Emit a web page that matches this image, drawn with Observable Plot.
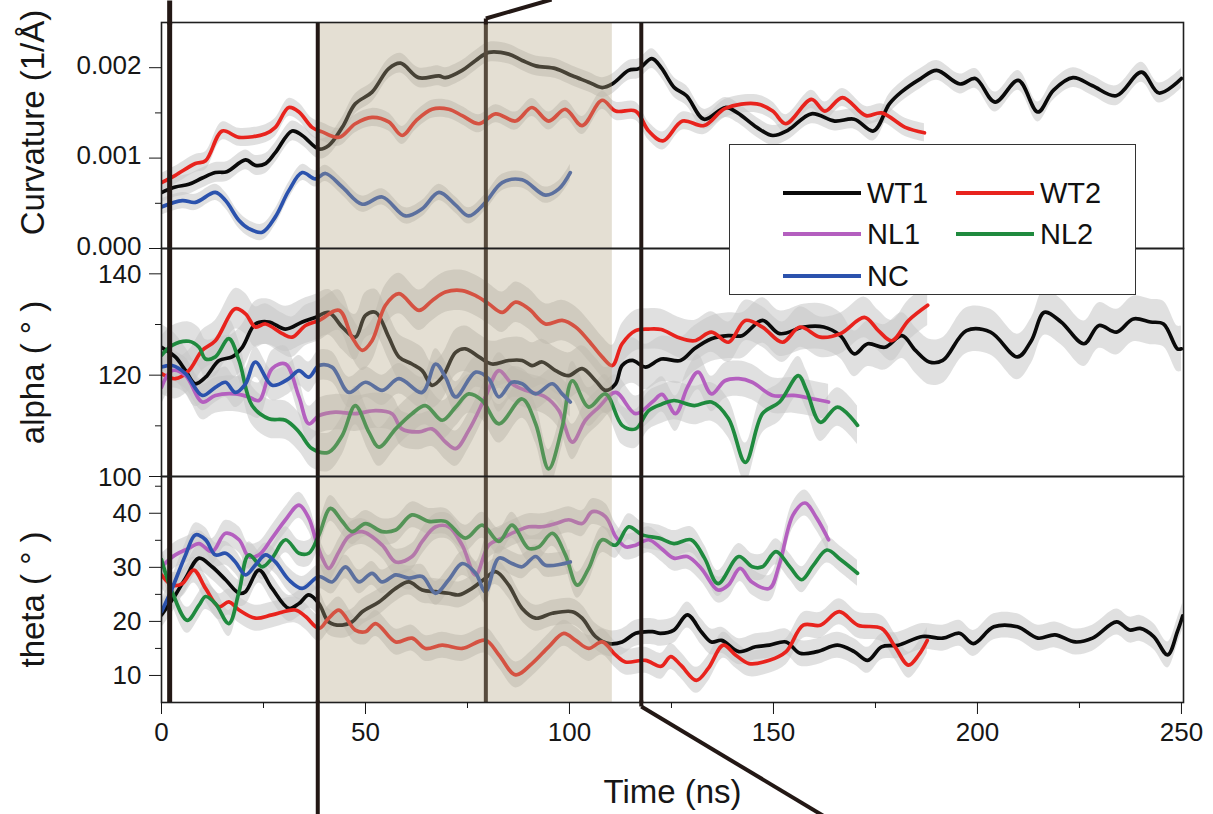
<!DOCTYPE html>
<html><head><meta charset="utf-8">
<script src="https://cdn.jsdelivr.net/npm/d3@7"></script>
<script src="https://cdn.jsdelivr.net/npm/@observablehq/plot@0.6"></script>
<style>
body{margin:0;background:#fff;}
#fig{position:relative;width:1213px;height:814px;overflow:hidden;font-family:"Liberation Sans",Arial,Helvetica,sans-serif;}
#fig .p{position:absolute;left:0;}
#fig svg{overflow:visible;}
#legend{position:absolute;left:729px;top:144px;width:407px;height:151px;border:1.3px solid #333;background:#fff;box-sizing:border-box;}
#legend .e{position:absolute;display:flex;align-items:center;height:30px;font-size:29px;color:#111;}
#legend .sw{display:inline-block;width:78px;height:4px;margin-right:6px;}
</style></head><body><div id="fig"></div>
<script>
// ---- series identity ----
const seriesNames = ["WT1", "WT2", "NL1", "NL2", "NC"];
const seriesColors = ["#0a0a0a", "#e8231d", "#b45fbf", "#1f8a3e", "#2b52ad"];

// ---- Curvature (values in 10^-3 1/Å), [time ns, value] ----
const curvWT1 = [[0,0.62],[3.4,0.68],[6.7,0.71],[10,0.78],[13.2,0.84],[16,0.85],[20.6,0.98],[23,0.92],[25.5,0.94],[27.9,1.06],[32,1.30],[34.5,1.25],[38.6,1.10],[41,1.14],[44.3,1.34],[47.5,1.60],[51.6,1.73],[55.7,1.99],[58.6,2.05],[63,1.89],[68,1.91],[69.6,1.89],[73.7,1.97],[77,2.08],[80.2,2.17],[85.1,2.15],[88.4,2.08],[91.7,2.02],[96.6,1.99],[100.7,1.91],[104.7,1.84],[108,1.78],[110.5,1.82],[114.5,1.97],[117,1.99],[120.2,2.10],[122.5,2.0],[125.7,1.78],[128.7,1.69],[133,1.43],[138.2,1.56],[141.2,1.50],[145.9,1.34],[149.8,1.25],[153.6,1.31],[159.3,1.49],[165,1.41],[169.8,1.43],[174.5,1.30],[178.4,1.60],[181.3,1.73],[186.1,1.88],[190,1.97],[195.7,1.82],[199.5,1.88],[204.3,1.62],[210,1.86],[214.8,1.51],[218.6,1.75],[223.4,1.89],[228.2,1.80],[234,1.69],[240.2,1.95],[244.5,1.72],[250,1.88]];
const curvWT2 = [[0,0.73],[3.4,0.81],[8.3,0.94],[10.8,0.97],[14.9,1.30],[19,1.23],[25.5,1.27],[27.9,1.34],[31.2,1.56],[33.7,1.51],[36.9,1.34],[39.4,1.29],[43.5,1.23],[47.5,1.38],[51.6,1.45],[55.7,1.40],[59,1.25],[62.3,1.41],[66.3,1.54],[70.4,1.54],[73.7,1.47],[77.8,1.38],[81.9,1.49],[86.8,1.41],[90.8,1.56],[94.9,1.41],[99,1.54],[103.1,1.36],[108,1.64],[111.3,1.52],[116.2,1.52],[119.4,1.30],[122.9,1.19],[127.7,1.41],[133,1.36],[138.2,1.55],[145.9,1.60],[149.8,1.52],[153,1.38],[159.3,1.65],[162.6,1.52],[166.9,1.67],[172.7,1.47],[176.5,1.50],[182.3,1.34],[187,1.28]];
const curvNC = [[0,0.46],[5.1,0.53],[8.3,0.51],[13.2,0.62],[15.7,0.53],[19,0.31],[21.4,0.22],[24.7,0.18],[27.9,0.35],[31.2,0.64],[34.5,0.84],[37.7,0.77],[40.2,0.83],[44.3,0.68],[49.2,0.49],[54.1,0.57],[59.8,0.36],[63.9,0.44],[68,0.62],[72.1,0.48],[75.3,0.36],[79.4,0.51],[83.5,0.73],[88.4,0.76],[94.1,0.59],[97.4,0.66],[100.2,0.84]];

// ---- alpha (degrees) ----
const alphaWT1 = [[0,125.5],[3.4,123.6],[5.9,120.9],[8.3,118.3],[10.8,119.6],[14.1,122.9],[17.3,123.6],[19.8,125.5],[23,130.1],[26.3,130.5],[30.4,129.1],[34.5,130.5],[37.7,131.4],[41,132.4],[44.3,129.5],[47.5,127.5],[50,131.8],[52.5,132.4],[55.7,127.5],[58.2,123.6],[61.4,122.2],[63.9,120.9],[66.3,118.0],[68.8,119.6],[72.1,124.5],[74.5,125.2],[77.8,123.6],[81,122.2],[85.1,122.9],[88.4,122.9],[90.8,121.9],[93.3,122.6],[96.6,120.9],[99.8,119.9],[103.1,121.3],[106.4,118.9],[108.8,117.0],[111.3,118.3],[112.9,121.9],[115.4,122.9],[118.6,121.6],[122.5,123.2],[127.2,122.9],[130.6,125.2],[134.8,127.2],[139,127.8],[142.3,127.8],[147.3,130.8],[151.5,128.2],[157.4,129.5],[162.3,129.5],[166.4,127.8],[169.8,124.2],[173.1,126.2],[177.3,125.5],[181.5,127.8],[184.8,124.9],[188.2,122.6],[191.5,122.9],[197.3,128.8],[203.2,128.5],[209.8,123.6],[213.2,126.8],[216.4,132.4],[220.5,130.5],[226.1,126.2],[229.8,129.8],[234.1,128.5],[238.2,131.1],[242.4,130.5],[245.6,130.1],[249,125.2],[250,125.2]];
const alphaWT2 = [[0,120.3],[3.4,119.3],[6.7,120.9],[10,124.9],[13.2,126.8],[18.1,133.1],[20.6,132.1],[23,129.5],[25.5,130.1],[29.6,128.2],[32,127.5],[35.3,129.8],[38.6,130.8],[43.5,132.8],[46.7,127.5],[49.2,124.9],[51.6,126.8],[54.9,133.8],[58.2,136.1],[63.1,132.8],[66.3,134.7],[69.6,136.4],[73.7,136.7],[77,135.7],[80.2,134.1],[83.5,132.4],[86.8,134.4],[90,133.1],[94.1,130.1],[98.2,130.8],[101.5,129.5],[104.7,126.8],[108,123.6],[110.5,121.9],[112.9,126.2],[116.2,128.8],[119.4,129.1],[122.5,129.0],[126.5,127.5],[130.6,126.8],[134.8,128.5],[139,126.5],[143.1,130.8],[147.3,129.5],[152.2,126.5],[156.5,129.5],[161.5,127.5],[166.4,128.2],[172.3,131.4],[175.7,128.8],[179,126.8],[183.1,130.8],[187.8,133.8]];
const alphaNL1 = [[0,117.6],[2.6,120.9],[5.9,119.9],[10,114.7],[13.2,116.0],[18.1,116.3],[21.4,115.7],[23.9,115.0],[27.1,121.3],[30.4,122.2],[33.7,115.7],[36.1,110.4],[38.6,112.0],[42.6,112.7],[47.5,112.4],[52.5,113.0],[56.5,112.4],[58.9,109.4],[63.1,108.8],[66.3,109.4],[69.6,106.8],[72.1,105.5],[75.3,109.1],[79.4,115.7],[82.7,120.9],[85.9,118.3],[89.2,117.0],[94.1,115.7],[97.4,113.0],[100.7,106.8],[103.9,111.1],[107.2,113.7],[111.3,116.6],[116.2,112.4],[120.3,114.7],[122.7,116.2],[126,112.4],[128.9,117.6],[131.5,120.6],[134.8,116.3],[138.1,118.9],[141.5,119.3],[144.8,118.6],[149.8,116.0],[154.8,116.0],[159.8,115.3],[163.5,114.7]];
const alphaNL2 = [[0,123.9],[2.6,125.9],[6.7,126.7],[9.2,125.5],[10.8,123.2],[13.2,123.6],[16.5,127.2],[19,122.9],[22.2,114.0],[26.3,111.4],[30.4,111.1],[33.7,108.8],[36.9,105.5],[41,104.8],[44.3,108.1],[47.5,114.0],[50.8,108.8],[53.3,105.8],[57.4,109.4],[61.4,112.4],[64.7,114.0],[68.8,111.1],[72.1,113.7],[75.3,116.3],[78.6,115.0],[82.7,110.4],[88.4,115.3],[91.7,110.4],[94.9,101.5],[98.2,109.7],[100.7,118.9],[104.7,113.7],[108.8,116.3],[112.9,110.1],[116.2,109.4],[119.4,113.0],[122.7,114.3],[125.6,115.0],[130.6,114.0],[134.8,114.7],[139,111.4],[143.1,102.8],[147.3,112.4],[151.5,114.7],[156.1,119.9],[158.1,117.0],[161.5,110.7],[165.7,113.7],[170.6,110.1]];
const alphaNC = [[0,121.6],[2.6,121.9],[5.9,120.3],[10,116.0],[13.2,117.6],[15.7,118.6],[18.1,116.6],[20.6,118.3],[23,122.6],[27.1,118.0],[31.2,119.3],[33.7,120.9],[36.1,119.6],[38.6,121.9],[41.8,121.6],[45.9,116.6],[50,118.6],[54.1,117.0],[58.2,119.3],[63.9,116.6],[67.2,122.2],[69.6,119.6],[72.1,115.7],[77,120.6],[80.2,119.3],[82.7,115.7],[85.9,118.6],[88.4,118.3],[91.7,116.3],[95.8,118.3],[98.2,116.3],[100.2,114.7]];

// ---- theta (degrees) ----
const thetaWT1 = [[0,21.2],[3.4,24.9],[5.9,28.0],[9.2,31.7],[12.4,30.1],[15.7,27.7],[19,25.2],[20.6,25.5],[23.9,29.5],[27.1,26.1],[31.2,22.4],[33.7,23.3],[36.1,24.9],[38.6,23.3],[41,19.9],[44.3,19.3],[46.7,19.9],[49.2,21.8],[53.3,23.6],[57.4,26.1],[60.6,27.3],[63.9,25.8],[67.2,25.5],[70.4,25.2],[72.9,24.9],[76.1,26.1],[79.4,28.0],[81.9,29.2],[85.1,26.7],[88.4,22.4],[91.7,20.6],[95.8,21.5],[100.7,21.8],[103.1,20.6],[106.4,17.2],[109.7,15.9],[112.9,16.2],[116.2,17.8],[120.3,18.1],[122.3,17.8],[125.6,18.4],[128.9,21.2],[132.3,18.1],[134.8,16.2],[137.3,16.5],[141.5,14.4],[145.6,15.3],[149,15.6],[153.1,16.2],[156.5,14.1],[160.7,14.4],[165.7,15.6],[169.8,14.4],[173.1,12.8],[176.5,15.3],[180.6,15.6],[186.5,17.2],[191.5,16.9],[195.6,17.8],[199,15.9],[204,19.0],[209.8,19.0],[214.8,16.9],[219,17.5],[224,16.2],[228.2,16.9],[234.1,19.9],[237.3,18.4],[239.9,18.7],[243.2,17.2],[246.6,13.8],[249,18.1],[250.3,21.0]];
const thetaWT2 = [[0,28.6],[2.6,26.7],[5.1,27.0],[7.9,29.5],[10.8,26.1],[14.1,22.7],[16.5,23.6],[19,22.1],[23,20.6],[27.1,21.2],[32.8,22.1],[35.3,20.9],[38.6,18.7],[41,20.6],[43.5,22.1],[47.5,18.4],[50,18.1],[52.5,19.6],[57.4,16.2],[61.4,16.9],[64.7,15.0],[68.8,15.6],[73.7,15.0],[79.4,16.5],[82.7,13.8],[86.8,10.1],[90.8,12.2],[94.9,15.3],[98.6,17.8],[101.5,16.5],[104.7,15.0],[108,16.2],[111.3,13.8],[113.7,12.5],[118.6,12.8],[122.5,11.7],[124.8,13.5],[127.3,11.9],[131.1,9.1],[134,11.3],[137.7,15.6],[140.7,13.8],[144,12.2],[149,12.8],[153.1,14.4],[157.3,19.3],[161.5,19.3],[166.1,21.8],[170.7,19.3],[176.5,18.7],[179.8,15.3],[183.1,11.9],[185.6,13.8],[187.7,16.5]];
const thetaNL1 = [[0,30.1],[3.4,32.3],[6.7,33.5],[9.2,34.4],[12.4,32.9],[15.7,36.3],[19,35.1],[21.4,32.0],[23.9,32.3],[27.1,35.4],[30.4,38.8],[33.7,41.5],[36.1,39.1],[37.7,35.4],[39.4,31.7],[41,29.8],[43.5,32.9],[45.9,35.7],[49.2,36.6],[54.1,34.1],[57.4,31.0],[61.4,32.0],[63.9,34.8],[67.2,37.5],[70.4,37.5],[73.7,34.1],[77,28.6],[80.2,34.1],[83.5,35.4],[86.8,36.6],[90,37.5],[93.3,37.5],[96.6,38.1],[99.8,38.8],[103.1,38.1],[105.6,40.3],[108.8,39.4],[111.3,35.7],[113.7,33.8],[116.2,34.1],[119.4,35.1],[122.5,33.5],[125.6,31.7],[128.9,32.0],[132.3,29.8],[136.4,25.8],[138.9,26.7],[141.8,29.8],[144.7,27.3],[149,26.1],[151.4,30.4],[154.8,39.7],[157.7,41.9],[160.6,39.1],[163.5,35.1]];
const thetaNL2 = [[0,31.4],[2.6,25.5],[6.3,20.2],[9.2,23.0],[10.8,24.6],[13.2,23.3],[16.5,19.6],[19,25.5],[21.4,32.3],[24.7,30.1],[27.1,31.7],[30.4,35.1],[33.7,32.6],[36.1,32.6],[38.6,36.0],[41.4,40.9],[44.3,38.5],[46.7,36.6],[50,38.1],[54.1,36.6],[57.4,36.9],[61.4,39.7],[65.5,38.5],[69.6,38.5],[74.5,35.4],[78.6,37.8],[82.7,34.8],[85.9,37.8],[90,33.5],[92.5,33.8],[95.8,36.3],[99,32.3],[101.9,26.7],[104.7,29.8],[108,35.1],[111.3,34.1],[114.5,37.5],[117.8,36.0],[122,35.4],[125.6,34.4],[129.8,35.1],[133.1,31.7],[136.4,27.0],[141.5,32.0],[144.8,30.1],[147.3,30.1],[150.6,32.9],[154,30.1],[156.9,27.7],[159.8,30.4],[163.1,33.2],[166.5,31.4],[170.6,28.9]];
const thetaNC = [[0,21.8],[2.6,26.1],[5.9,32.3],[8.3,36.0],[10.8,35.1],[13.2,32.3],[15.7,32.6],[18.1,31.0],[20.6,28.6],[23,30.4],[25.5,32.3],[27.9,31.0],[31.2,27.7],[34.5,26.1],[38.6,28.3],[41.8,27.3],[45.1,30.1],[48.4,27.3],[51.6,28.9],[54.1,27.3],[57.4,28.6],[60.6,28.0],[63.9,28.3],[67.2,25.2],[70.4,27.7],[73.7,30.7],[77,28.9],[79.4,25.5],[82.7,31.7],[85.9,30.7],[88.4,30.1],[91.7,32.0],[94.1,30.4],[100.2,31.0]];

// typical half-spread of the raw (unsmoothed) gray traces
const curvNoise = {WT1: 0.11, WT2: 0.10, NC: 0.09};
const alphaNoise = {WT1: 4.5, WT2: 4.0, NL1: 3.5, NL2: 3.8, NC: 3.0};
const thetaNoise = {WT1: 2.4, WT2: 2.4, NL1: 2.4, NL2: 2.4, NC: 2.2};

// ---- annotations ----
const shadeSpan = [{start: 38.8, end: 110.5}];
const guideUnder = [79.5];                 // drawn beneath the shading
const guideOver = [{t: 2.0, w: 5}, {t: 38.3, w: 4}, {t: 117.6, w: 4}];
// extensions of the guide lines outside the plot frames (figure pixels for y)
const guideExt = [
  {x1: 2.0, y1: 0, x2: 2.0, y2: 24, w: 5},
  {x1: 38.3, y1: 700, x2: 38.3, y2: 814, w: 4},
  {x1: 79.5, y1: 24, x2: 79.5, y2: 18, w: 4},
  {x1: 79.5, y1: 18, x2: 95.6, y2: -1, w: 4},
  {x1: 117.6, y1: 700, x2: 117.6, y2: 706, w: 4},
  {x1: 117.6, y1: 706, x2: 162.5, y2: 816, w: 4}
];

const xTicks = [0, 50, 100, 150, 200, 250];
const xMinor = [25, 75, 125, 175, 225];

// ---- layout ----
const W = 1213, ML = 161, MR = 30, XMAX = 250.5;
const FONT = '"Liberation Sans", Arial, Helvetica, sans-serif';

function rowsFor(list, noise) {
  return list.flatMap(([name, pairs]) => pairs.map(([t, v]) => ({s: name, t, v, lo: v - noise[name], hi: v + noise[name]})));
}

function panel({rows, yDomain, major, minor, fmt, labelDy, title, titleDy, top, height, marginTop, marginBottom, xAxis}) {
  const marks = [
    Plot.areaY(rows, {x: "t", y1: "lo", y2: "hi", z: "s", fill: "#c6c6c6", fillOpacity: 0.55, curve: "catmull-rom", clip: true}),
    Plot.lineY(rows, {x: "t", y: "v", z: "s", stroke: "s", strokeWidth: 3.7, strokeLinejoin: "round", curve: "catmull-rom", clip: true}),
    Plot.ruleX(guideUnder, {stroke: "#231815", strokeWidth: 4}),
    Plot.rect(shadeSpan, {x1: "start", x2: "end", fill: "#b3a685", fillOpacity: 0.36}),
    Plot.ruleX(guideOver, {x: "t", stroke: "#231815", strokeWidth: "w"}),
    Plot.frame({stroke: "#1f1f1f", strokeWidth: 1.6}),
    Plot.axisY({ticks: major, tickSize: 12, tickFormat: () => "", label: null}),
    Plot.axisY({ticks: major, tickSize: 0, tickPadding: 20, tickFormat: fmt, dy: labelDy, label: null}),
    Plot.axisY({ticks: minor, tickSize: 6, tickFormat: () => "", label: null}),
    Plot.text([title], {frameAnchor: "left", text: d => d, rotate: -90, textAnchor: "middle", lineAnchor: "middle", dx: -128, dy: titleDy, fontSize: 33})
  ];
  if (xAxis) {
    marks.push(
      Plot.axisX({ticks: xTicks, tickSize: 12, tickPadding: 8, tickFormat: d => String(d), label: null}),
      Plot.axisX({ticks: xMinor, tickSize: 6, tickFormat: () => "", label: null}),
      Plot.text(["Time (ns)"], {frameAnchor: "bottom", text: d => d, textAnchor: "middle", lineAnchor: "middle", dy: 90, fontSize: 33})
    );
  }
  const chart = Plot.plot({
    width: W, height, marginLeft: ML, marginRight: MR, marginTop, marginBottom,
    x: {domain: [0, XMAX], ...(xAxis ? {} : {axis: null})},
    y: {domain: yDomain, label: null},
    color: {domain: seriesNames, range: seriesColors},
    style: {fontFamily: FONT, fontSize: "26px", color: "#161616", background: "transparent", overflow: "visible"},
    marks
  });
  const div = document.createElement("div");
  div.className = "p";
  div.style.top = top + "px";
  div.appendChild(chart);
  return div;
}

const fig = document.getElementById("fig");

fig.appendChild(panel({
  rows: rowsFor([["WT1", curvWT1], ["WT2", curvWT2], ["NC", curvNC]], curvNoise),
  yDomain: [0, 2.5], major: [0, 1, 2], minor: [0.5, 1.5],
  fmt: d => (d / 1000).toFixed(3), labelDy: -2, title: "Curvature (1/Å)", titleDy: -13,
  top: 0, height: 248, marginTop: 22, marginBottom: 0, xAxis: false
}));
fig.appendChild(panel({
  rows: rowsFor([["WT1", alphaWT1], ["WT2", alphaWT2], ["NL1", alphaNL1], ["NL2", alphaNL2], ["NC", alphaNC]], alphaNoise),
  yDomain: [100, 145], major: [100, 120, 140], minor: [110, 130],
  fmt: d => String(d), labelDy: 1, title: "alpha ( ° )", titleDy: 10,
  top: 248, height: 228, marginTop: 0, marginBottom: 0, xAxis: false
}));
fig.appendChild(panel({
  rows: rowsFor([["WT1", thetaWT1], ["WT2", thetaWT2], ["NL1", thetaNL1], ["NL2", thetaNL2], ["NC", thetaNC]], thetaNoise),
  yDomain: [5, 46.8], major: [10, 20, 30, 40], minor: [15, 25, 35, 45],
  fmt: d => String(d), labelDy: 0, title: "theta ( ° )", titleDy: 10,
  top: 476, height: 338, marginTop: 0, marginBottom: 112, xAxis: true
}));

// overlay for guide-line extensions outside the frames
const overlay = Plot.plot({
  width: W, height: 814, marginLeft: ML, marginRight: MR, marginTop: 0, marginBottom: 0,
  x: {domain: [0, XMAX], axis: null},
  y: {domain: [0, 814], range: [0, 814], axis: null},
  style: {background: "transparent", overflow: "visible"},
  marks: [Plot.link(guideExt, {x1: "x1", y1: "y1", x2: "x2", y2: "y2", stroke: "#231815", strokeWidth: "w"})]
});
const od = document.createElement("div");
od.className = "p"; od.style.top = "0px";
od.appendChild(overlay);
fig.appendChild(od);

// legend
const legendPos = {WT1: [53, 0], WT2: [226, 0], NL1: [53, 1], NL2: [226, 1], NC: [53, 2]};
const legendRowY = [33, 74, 116];
const lg = document.createElement("div");
lg.id = "legend";
seriesNames.forEach((name, i) => {
  const [lx, row] = legendPos[name];
  const e = document.createElement("div");
  e.className = "e";
  e.style.left = lx + "px";
  e.style.top = legendRowY[row] + "px";
  const sw = document.createElement("span");
  sw.className = "sw"; sw.style.background = seriesColors[i];
  const tx = document.createElement("span");
  tx.textContent = name;
  e.appendChild(sw); e.appendChild(tx);
  lg.appendChild(e);
});
fig.appendChild(lg);
</script>
</body></html>
